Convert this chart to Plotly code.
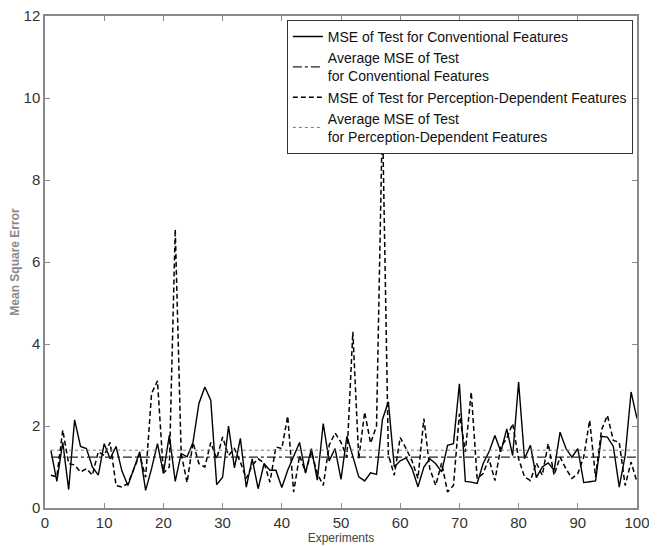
import plotly.graph_objects as go

experiments = list(range(1, 101))

mse_conventional = [
    1.40, 0.65, 1.60, 0.45, 2.15, 1.50, 1.45, 1.00, 0.80, 1.57,
    1.20, 1.50, 0.90, 0.55, 0.95, 1.37, 0.43, 0.96, 1.57, 0.85,
    1.77, 0.65, 1.33, 1.25, 1.60, 2.55, 2.95, 2.63, 0.57, 0.75,
    2.00, 0.98, 1.70, 0.51, 1.20, 0.47, 1.08, 0.92, 0.92, 0.50,
    0.92, 1.25, 1.60, 0.85, 1.45, 0.68, 2.06, 1.15, 1.45, 0.70,
    1.75, 1.26, 0.76, 0.66, 0.86, 0.82, 2.16, 2.59, 1.00, 1.15,
    1.22, 0.96, 0.52, 1.00, 1.20, 1.08, 0.88, 1.53, 1.57, 3.03,
    0.65, 0.63, 0.60, 1.08, 1.37, 1.77, 1.37, 1.93, 1.28, 3.07,
    1.20, 1.53, 0.74, 1.00, 1.10, 0.92, 1.85, 1.45, 1.24, 1.45,
    0.62, 0.64, 0.66, 1.75, 1.73, 1.50, 0.51, 1.28, 2.83, 2.18,
]

mse_perception = [
    0.80, 0.76, 1.90, 1.08, 1.05, 0.88, 0.96, 0.80, 1.37, 1.28,
    1.60, 0.55, 0.51, 0.60, 0.95, 1.30, 0.75, 2.79, 3.10, 0.85,
    1.00, 6.80, 1.33, 0.62, 1.60, 1.08, 1.00, 1.60, 1.20, 1.73,
    1.28, 1.45, 1.12, 0.72, 1.04, 1.20, 1.10, 0.63, 1.49, 1.45,
    2.24, 0.39, 1.28, 0.88, 1.37, 0.84, 0.55, 1.53, 1.83, 1.60,
    1.24, 4.30, 1.20, 2.34, 1.58, 2.00, 9.60, 1.30, 0.80, 1.72,
    1.45, 1.15, 0.72, 2.18, 0.96, 0.55, 1.10, 0.39, 0.55, 2.30,
    1.37, 2.83, 0.72, 0.84, 1.20, 0.67, 1.49, 1.70, 2.06, 1.20,
    0.76, 0.67, 1.10, 0.80, 1.57, 0.80, 1.24, 0.96, 0.72, 0.84,
    1.24, 2.14, 0.76, 1.90, 2.26, 1.65, 1.60, 0.55, 1.12, 0.63,
]

avg_conventional = 1.24
avg_perception = 1.41

x_ticks = [0, 10, 20, 30, 40, 50, 60, 70, 80, 90, 100]
y_ticks = [0, 2, 4, 6, 8, 10, 12]

fig = go.Figure()
fig.add_trace(go.Scatter(
    x=experiments, y=mse_conventional, mode="lines",
    name="MSE of Test for Conventional Features",
    line=dict(color="black", width=1.4, dash="solid")))
fig.add_trace(go.Scatter(
    x=experiments, y=[avg_conventional] * len(experiments), mode="lines",
    name="Average MSE of Test<br>for Conventional Features",
    line=dict(color="#222", width=1.4, dash="dashdot")))
fig.add_trace(go.Scatter(
    x=experiments, y=mse_perception, mode="lines",
    name="MSE of Test for Perception-Dependent Features",
    line=dict(color="black", width=1.5, dash="5px,3px")))
fig.add_trace(go.Scatter(
    x=experiments, y=[avg_perception] * len(experiments), mode="lines",
    name="Average MSE of Test<br>for Perception-Dependent Features",
    line=dict(color="#777", width=1, dash="dot")))

axis_common = dict(
    showgrid=False, zeroline=False, showline=True, linecolor="#8a8a8a",
    linewidth=1.5, mirror="ticks", ticks="inside", ticklen=5,
    tickcolor="#8a8a8a", automargin=False,
    tickfont=dict(family="Liberation Sans, Arial", size=15, color="#333"),
)

fig.update_layout(
    width=649, height=538,
    margin=dict(l=37, r=20, t=8, b=38),
    paper_bgcolor="white", plot_bgcolor="white",
    showlegend=True,
    legend=dict(
        x=0.993, y=0.992, xanchor="right", yanchor="top",
        bgcolor="white", bordercolor="#333", borderwidth=1,
        font=dict(family="Liberation Sans, Arial", size=14, color="#111"),
        itemwidth=30, tracegroupgap=0,
    ),
    xaxis=dict(range=[0, 100], tickvals=x_ticks,
               title=dict(text="Experiments", standoff=4,
                          font=dict(family="Liberation Sans, Arial", size=12, color="#444")),
               **axis_common),
    yaxis=dict(range=[0, 12], tickvals=y_ticks, ticklabeloverflow="allow",
               title=dict(text="<b>Mean Square Error</b>", standoff=6,
                          font=dict(family="Liberation Sans, Arial", size=12, color="#888")),
               **axis_common),
)

fig.write_html("out.html")
